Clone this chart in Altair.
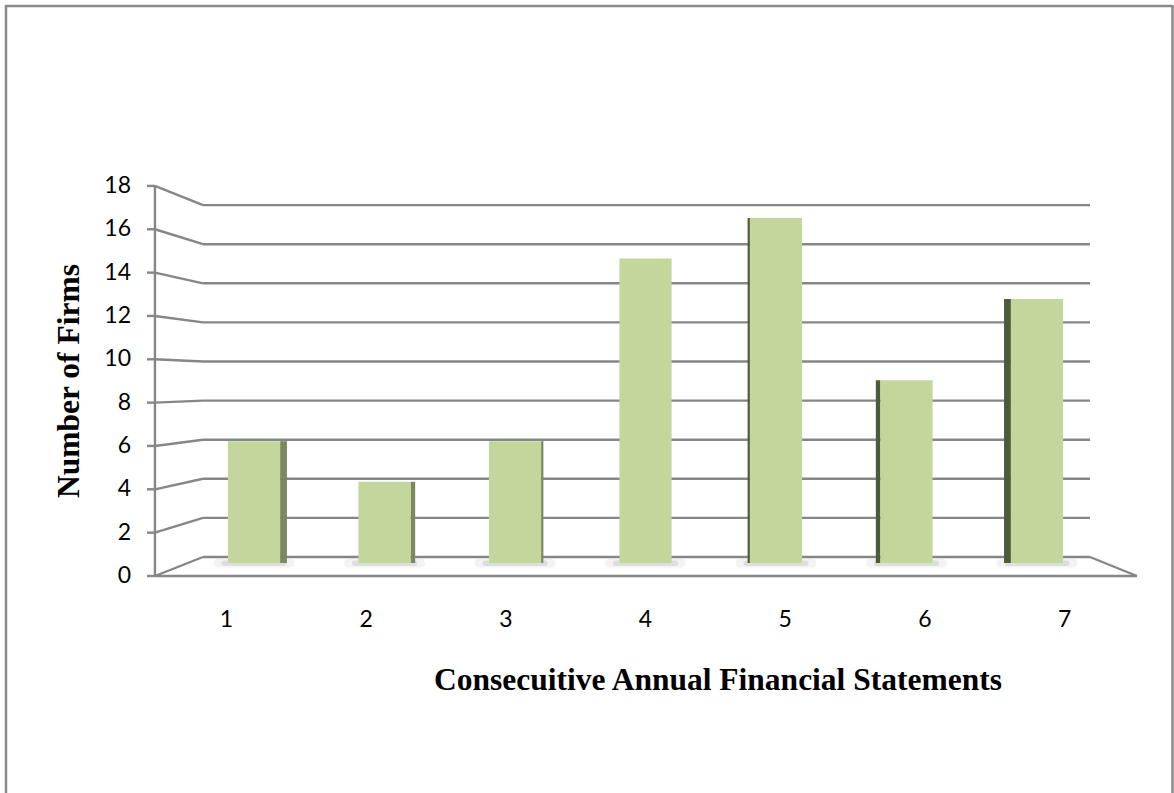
import altair as alt
import pandas as pd

# ---------------- data ----------------
categories = [1, 2, 3, 4, 5, 6, 7]
firms = [6, 4, 6, 15, 17, 9, 13]
y_ticks = [0, 2, 4, 6, 8, 10, 12, 14, 16, 18]
x_title = "Consecuitive Annual Financial Statements"
y_title = "Number of Firms"

# ---------------- 3-D perspective layout constants ----------------
CENTER = 4                      # category at the centre of perspective
FRONT_SPREAD = 1.0705           # front plane x-spread relative to bar plane
FRONT_Y0, FRONT_YK = -0.640, 1.0675   # front plane value -> bar-plane units
BACK_Y0, BACK_YK = 0.296, 0.963       # back wall value -> bar-plane units
FRONT_L, FRONT_R = 0.241, 7.766
BACK_L, BACK_R = 0.609, 7.406
HALF = 0.2                      # half bar width (category units)
SIDE_K = 0.0175                 # visible side-face width per category from centre
TICK_LEN = 0.061
LABEL_X = 0.0575
XLABEL_Y = -2.81

GRID = "#868686"
FACE = "#c3d69b"
LABEL_FONT = "Lato"
LABEL_SIZE = 23

X = alt.Scale(domain=[0.5, 7.5], range=[188.75, 1102.25], nice=False, zero=False)
Y = alt.Scale(domain=[0, 18], range=[563, 197.6], nice=False, zero=False)

ticks_df = pd.DataFrame({"v": y_ticks, "label": [str(t) for t in y_ticks]})
bars_df = pd.DataFrame({"c": categories, "v": firms, "label": [str(c) for c in categories]})
axis_df = pd.DataFrame({"v0": [min(y_ticks)], "v1": [max(y_ticks)]})

front = f"{FRONT_Y0} + {FRONT_YK}*"
back = f"{BACK_Y0} + {BACK_YK}*"
SW = 2.4

# back wall gridlines
grid = alt.Chart(ticks_df).transform_calculate(
    yb=back + "datum.v", xl=str(BACK_L), xr=str(BACK_R)
).mark_rule(color=GRID, strokeWidth=SW).encode(
    x=alt.X("xl:Q", scale=X, axis=None), x2="xr:Q",
    y=alt.Y("yb:Q", scale=Y, axis=None),
)

# left wall diagonals
diag = alt.Chart(ticks_df).transform_calculate(
    yb=back + "datum.v", yf=front + "datum.v", xl=str(FRONT_L), xr=str(BACK_L)
).mark_rule(color=GRID, strokeWidth=SW).encode(
    x=alt.X("xl:Q", scale=X, axis=None), x2="xr:Q",
    y=alt.Y("yf:Q", scale=Y, axis=None), y2="yb:Q",
)

# tick marks on the front axis
tickm = alt.Chart(ticks_df).transform_calculate(
    yf=front + "datum.v", xl=str(FRONT_L - TICK_LEN), xr=str(FRONT_L)
).mark_rule(color=GRID, strokeWidth=SW).encode(
    x=alt.X("xl:Q", scale=X, axis=None), x2="xr:Q",
    y=alt.Y("yf:Q", scale=Y, axis=None),
)

# vertical axis line
axline = alt.Chart(axis_df).transform_calculate(
    y0=front + "datum.v0", y1=front + "datum.v1", xl=str(FRONT_L)
).mark_rule(color=GRID, strokeWidth=SW).encode(
    x=alt.X("xl:Q", scale=X, axis=None),
    y=alt.Y("y0:Q", scale=Y, axis=None), y2="y1:Q",
)

# floor front edge
floor_front = alt.Chart(axis_df).transform_calculate(
    y0=front + "datum.v0", xl=str(FRONT_L), xr=str(FRONT_R)
).mark_rule(color=GRID, strokeWidth=SW).encode(
    x=alt.X("xl:Q", scale=X, axis=None), x2="xr:Q",
    y=alt.Y("y0:Q", scale=Y, axis=None),
)

# floor right diagonal
floor_right = alt.Chart(axis_df).transform_calculate(
    yb=back + "datum.v0", yf=front + "datum.v0", xb=str(BACK_R), xf=str(FRONT_R)
).mark_rule(color=GRID, strokeWidth=SW).encode(
    x=alt.X("xb:Q", scale=X, axis=None), x2="xf:Q",
    y=alt.Y("yb:Q", scale=Y, axis=None), y2="yf:Q",
)

# bar shadows (soft)
shadow_outer = alt.Chart(bars_df).transform_calculate(
    xl=f"datum.c - {HALF + 0.11}", xr=f"datum.c + {HALF + 0.11}", y0="-0.22", y1="0.2"
).mark_rect(color="#a0a0a0", opacity=0.12, cornerRadius=4).encode(
    x=alt.X("xl:Q", scale=X, axis=None), x2="xr:Q",
    y=alt.Y("y0:Q", scale=Y, axis=None), y2="y1:Q",
)
shadow_inner = alt.Chart(bars_df).transform_calculate(
    xl=f"datum.c - {HALF + 0.05}", xr=f"datum.c + {HALF + 0.05}", y0="-0.15", y1="0.12"
).mark_rect(color="#8a8a8a", opacity=0.2, cornerRadius=3).encode(
    x=alt.X("xl:Q", scale=X, axis=None), x2="xr:Q",
    y=alt.Y("y0:Q", scale=Y, axis=None), y2="y1:Q",
)

# side faces
sides = alt.Chart(bars_df).transform_filter(f"datum.c != {CENTER}").transform_calculate(
    w=f"abs(datum.c - {CENTER}) * {SIDE_K}",
    side=f"datum.c < {CENTER} ? 'right' : 'left'",
    xl=f"datum.c < {CENTER} ? datum.c + {HALF} : datum.c - {HALF} - datum.w",
    xr=f"datum.c < {CENTER} ? datum.c + {HALF} + datum.w : datum.c - {HALF}",
    y0="0",
).mark_rect().encode(
    x=alt.X("xl:Q", scale=X, axis=None), x2="xr:Q",
    y=alt.Y("y0:Q", scale=Y, axis=None), y2="v:Q",
    color=alt.Color("side:N", scale=alt.Scale(domain=["right", "left"], range=["#7b8960", "#4d5b38"]), legend=None),
)

# bar front faces
faces = alt.Chart(bars_df).transform_calculate(
    xl=f"datum.c - {HALF}", xr=f"datum.c + {HALF}", y0="0"
).mark_rect(color=FACE).encode(
    x=alt.X("xl:Q", scale=X, axis=None), x2="xr:Q",
    y=alt.Y("y0:Q", scale=Y, axis=None), y2="v:Q",
)

# y tick labels
ylabels = alt.Chart(ticks_df).transform_calculate(
    yf=front + "datum.v", xl=str(LABEL_X)
).mark_text(align="right", baseline="middle", font=LABEL_FONT, fontSize=LABEL_SIZE, color="#000000").encode(
    x=alt.X("xl:Q", scale=X, axis=None),
    y=alt.Y("yf:Q", scale=Y, axis=None),
    text="label:N",
)

# x tick labels
xlabels = alt.Chart(bars_df).transform_calculate(
    xf=f"{CENTER} + (datum.c - {CENTER}) * {FRONT_SPREAD}", yl=str(XLABEL_Y)
).mark_text(align="center", baseline="middle", font=LABEL_FONT, fontSize=LABEL_SIZE, color="#000000").encode(
    x=alt.X("xf:Q", scale=X, axis=None),
    y=alt.Y("yl:Q", scale=Y, axis=None),
    text="label:N",
)

# titles
titles_df = pd.DataFrame({"t": [x_title, y_title]})
xt = alt.Chart(titles_df).transform_filter(alt.datum.t == x_title).mark_text(
    align="center", baseline="alphabetic", font="Liberation Serif", fontWeight="bold",
    fontSize=31.5, color="#000000"
).encode(x=alt.value(718), y=alt.value(690), text="t:N")

yt = alt.Chart(titles_df).transform_filter(alt.datum.t == y_title).mark_text(
    align="center", baseline="alphabetic", font="Liberation Serif", fontWeight="bold",
    fontSize=31.5, angle=270, color="#000000"
).encode(x=alt.value(79), y=alt.value(381), text="t:N")

# outer frame
FRAME = "#8a8a8a"
fl = alt.Chart(axis_df).mark_rule(color=FRAME, strokeWidth=2.5).encode(
    x=alt.value(6), y=alt.value(5), y2=alt.value(793))
ft = alt.Chart(axis_df).mark_rule(color=FRAME, strokeWidth=2.5).encode(
    x=alt.value(5), x2=alt.value(1173), y=alt.value(6))
fr = alt.Chart(axis_df).mark_rule(color=FRAME, strokeWidth=2.5).encode(
    x=alt.value(1172.5), y=alt.value(5), y2=alt.value(793))

chart = alt.layer(
    grid, diag, tickm, axline, floor_front, floor_right,
    shadow_outer, shadow_inner, sides, faces, ylabels, xlabels, xt, yt, fl, ft, fr
).properties(
    width=1174, height=793, autosize="none", padding=0, background="white"
).configure_view(strokeWidth=0)

chart.save("out.html", embed_options={"renderer": "svg", "actions": False})
